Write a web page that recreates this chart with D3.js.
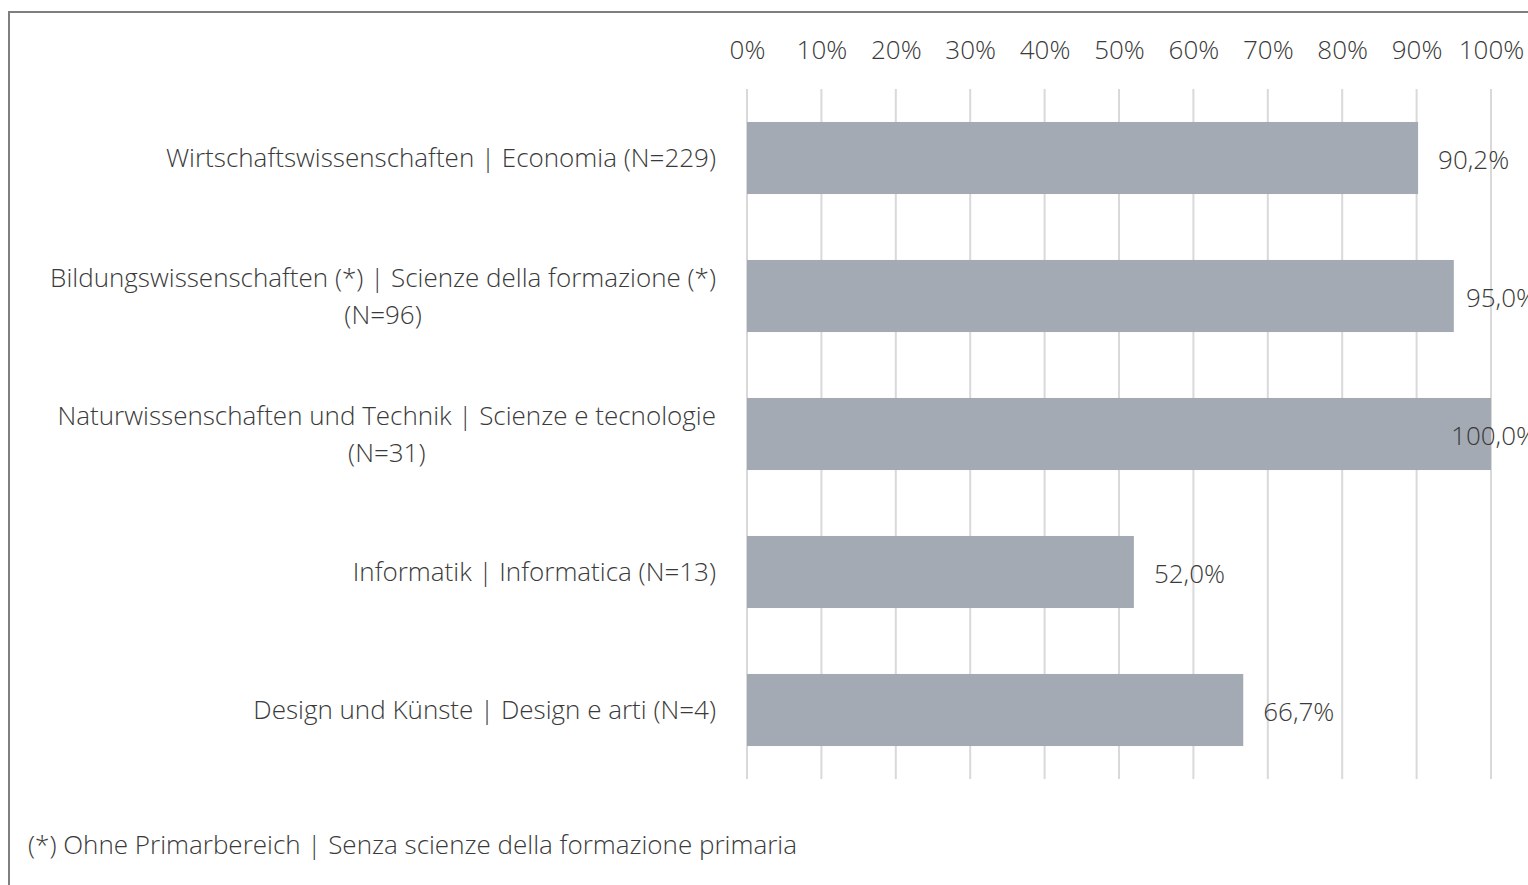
<!DOCTYPE html>
<html>
<head>
<meta charset="utf-8">
<script src="https://cdn.jsdelivr.net/npm/d3@7"></script>
<style>
  html, body { margin: 0; padding: 0; background: #fff; }
  svg { display: block; }
</style>
</head>
<body>
<svg id="chart"></svg>
<script>
// ── Data ─────────────────────────────────────────────
const categories = [
  ['Wirtschaftswissenschaften | Economia (N=229)'],
  ['Bildungswissenschaften (*) | Scienze della formazione (*)', '(N=96)'],
  ['Naturwissenschaften und Technik | Scienze e tecnologie', '(N=31)'],
  ['Informatik | Informatica (N=13)'],
  ['Design und Künste | Design e arti (N=4)']
];
const values = [90.2, 95.0, 100.0, 52.0, 66.7];
const ticks = [0, 10, 20, 30, 40, 50, 60, 70, 80, 90, 100];
const footnote = '(*) Ohne Primarbereich | Senza scienze della formazione primaria';

// ── Layout ───────────────────────────────────────────
const W = 1528, H = 885;
const FONT = '"Open Sans", "Noto Sans", sans-serif';
const TEXT = '#3a3a3a';
const FS = 26;

const svg = d3.select('#chart').attr('width', W).attr('height', H);

// frame
svg.append('rect')
  .attr('x', 9).attr('y', 12)
  .attr('width', W + 20).attr('height', H + 20)
  .attr('fill', 'none')
  .attr('stroke', '#7f7f7f')
  .attr('stroke-width', 2);

const x = d3.scaleLinear().domain([0, 100]).range([747, 1491]);
const y = d3.scaleBand()
  .domain(d3.range(values.length))
  .range([89, 779])
  .paddingInner(0.478)
  .paddingOuter(0.239);

// gridlines
svg.append('g')
  .selectAll('line')
  .data(ticks)
  .join('line')
    .attr('x1', d => x(d)).attr('x2', d => x(d))
    .attr('y1', 89).attr('y2', 779)
    .attr('stroke', '#d9d9d9')
    .attr('stroke-width', 2);

// top axis labels
const axis = svg.append('g')
  .attr('transform', 'translate(0,59)')
  .call(d3.axisTop(x).tickValues(ticks).tickSize(0).tickPadding(0).tickFormat(d => d + '%'));
axis.select('.domain').remove();
axis.selectAll('text')
  .attr('fill', TEXT)
  .attr('font-size', FS)
  .attr('font-family', FONT)
  .attr('font-weight', 300);

// bars
svg.append('g')
  .selectAll('rect')
  .data(values)
  .join('rect')
    .attr('x', x(0))
    .attr('y', (d, i) => y(i))
    .attr('width', d => x(d) - x(0))
    .attr('height', y.bandwidth())
    .attr('fill', '#a3aab3');

// category labels (multi-line, block right-aligned, lines centered)
const labelRight = 716;
const lineGap = 37;
categories.forEach((lines, i) => {
  const cy = y(i) + y.bandwidth() / 2;
  const y0 = cy - (lines.length - 1) * lineGap / 2;
  const texts = lines.map((s, k) => svg.append('text')
    .attr('y', y0 + k * lineGap)
    .attr('dy', '0.35em')
    .attr('fill', TEXT)
    .attr('font-size', FS)
    .attr('font-family', FONT)
    .attr('font-weight', 300)
    .text(s));
  const widths = texts.map(t => t.node().getComputedTextLength());
  const maxW = d3.max(widths);
  texts.forEach((t, k) => {
    t.attr('x', labelRight - maxW / 2 - widths[k] / 2);
  });
});

// value labels
const fmt = v => v.toFixed(1).replace('.', ',') + '%';
const clampRight = 1537;
values.forEach((v, i) => {
  const t = svg.append('text')
    .attr('y', y(i) + y.bandwidth() / 2 + 2)
    .attr('dy', '0.35em')
    .attr('fill', TEXT)
    .attr('font-size', FS)
    .attr('font-family', FONT)
    .attr('font-weight', 300)
    .text(fmt(v));
  const w = t.node().getComputedTextLength();
  t.attr('x', Math.min(x(v) + 20, clampRight - w));
});

// footnote
svg.append('text')
  .attr('x', 28).attr('y', 845)
  .attr('dy', '0.35em')
  .attr('fill', TEXT)
  .attr('font-size', FS)
  .attr('font-family', FONT)
  .attr('font-weight', 300)
  .text(footnote);
</script>
</body>
</html>
